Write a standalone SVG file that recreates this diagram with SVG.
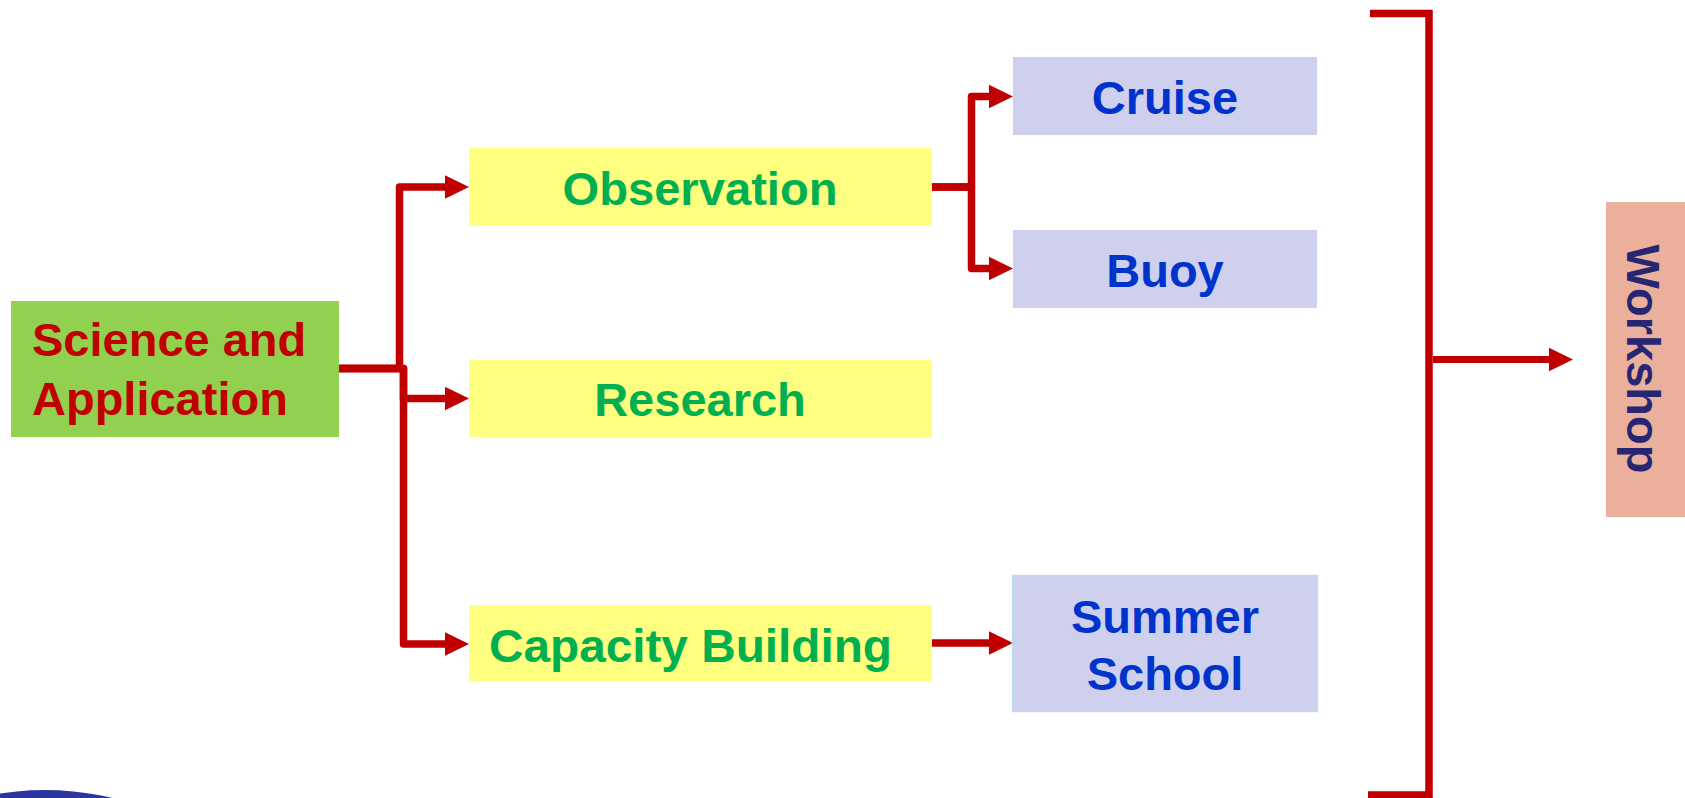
<svg xmlns="http://www.w3.org/2000/svg" width="1685" height="798" viewBox="0 0 1685 798">
<style>
text{font-family:"Liberation Sans",Arial,sans-serif;font-weight:bold;font-size:47px}
.yel{fill:#FFFF80}
.lav{fill:#CFCFEE}
.gtx{fill:#00B050}
.btx{fill:#0033CC}
.conn{fill:none;stroke:#C00000;stroke-width:7.5;stroke-linejoin:round}
</style>
<defs>
<marker id="ah" markerUnits="userSpaceOnUse" markerWidth="26" markerHeight="26" refX="0" refY="11.7" orient="auto" overflow="visible">
<path d="M0,0 L24,11.7 L0,23.4 Z" fill="#C00000"/>
</marker>
</defs>
<rect width="1685" height="798" fill="#FFFFFF"/>
<circle cx="45" cy="1079" r="289" fill="#2B35A0"/>
<g id="connectors">
<path class="conn" d="M339,368.5 H399.5 V187 H445" marker-end="url(#ah)"/>
<path class="conn" d="M339,368.5 H403.5 V398.5 H445" marker-end="url(#ah)"/>
<path class="conn" d="M339,368.5 H403.5 V644 H445" marker-end="url(#ah)"/>
<path class="conn" d="M932,187 H971.5 V96.5 H989" marker-end="url(#ah)"/>
<path class="conn" d="M932,187 H971.5 V268.5 H989" marker-end="url(#ah)"/>
<path class="conn" d="M932,643 H989" marker-end="url(#ah)"/>
<path class="conn" d="M1370,13.5 H1429 V795 H1368" style="stroke-linejoin:miter"/>
<path class="conn" d="M1433,359.5 H1549" style="stroke-width:7" marker-end="url(#ah)"/>
</g>
<g id="science">
<rect x="11" y="301" width="328" height="136" fill="#92D050"/>
<text x="32" y="356" fill="#C00000">Science and</text>
<text x="32" y="415" fill="#C00000">Application</text>
</g>
<g id="observation">
<rect class="yel" x="469" y="148" width="463" height="78"/>
<text class="gtx" x="700" y="205" text-anchor="middle" font-size="48" textLength="275" lengthAdjust="spacingAndGlyphs">Observation</text>
</g>
<g id="research">
<rect class="yel" x="469" y="360" width="463" height="77"/>
<text class="gtx" x="700" y="416" text-anchor="middle">Research</text>
</g>
<g id="capacity">
<rect class="yel" x="469" y="605" width="463" height="77"/>
<text class="gtx" x="489" y="662" font-size="48" textLength="403" lengthAdjust="spacingAndGlyphs">Capacity Building</text>
</g>
<g id="cruise">
<rect class="lav" x="1013" y="57" width="304" height="78"/>
<text class="btx" x="1165" y="114" text-anchor="middle">Cruise</text>
</g>
<g id="buoy">
<rect class="lav" x="1013" y="230" width="304" height="78"/>
<text class="btx" x="1165" y="287" text-anchor="middle">Buoy</text>
</g>
<g id="summer-school">
<rect class="lav" x="1012.5" y="575.5" width="305" height="136" stroke="#B8E0E6" stroke-width="1.5"/>
<text class="btx" x="1165" y="633" text-anchor="middle">Summer</text>
<text class="btx" x="1165" y="690" text-anchor="middle">School</text>
</g>
<g id="workshop">
<rect x="1606" y="202" width="79" height="315" fill="#EBB09C"/>
<text transform="translate(1627,359) rotate(90)" x="0" y="0" text-anchor="middle" fill="#262673">Workshop</text>
</g>
</svg>
